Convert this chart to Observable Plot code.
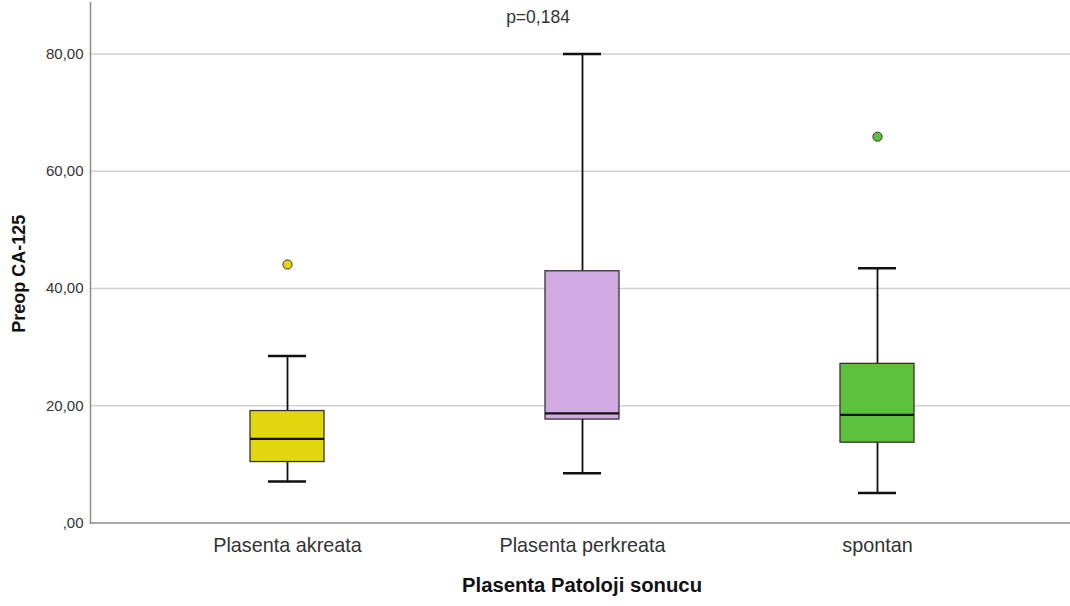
<!DOCTYPE html>
<html>
<head>
<meta charset="utf-8">
<script src="https://cdn.jsdelivr.net/npm/d3@7"></script>
<script src="https://cdn.jsdelivr.net/npm/@observablehq/plot@0.6"></script>
<style>
  html, body { margin: 0; padding: 0; background: #fff; }
  #chart svg { display: block; }
</style>
</head>
<body>
<div id="chart"></div>
<script>
// ---- data ----
const categories = ["Plasenta akreata", "Plasenta perkreata", "spontan"];
const whiskerLow  = [7.1, 8.5, 5.1];
const q1          = [10.4, 17.65, 13.7];
const median      = [14.35, 18.7, 18.45];
const q3          = [19.1, 42.95, 27.15];
const whiskerHigh = [28.5, 80.0, 43.45];
const outlierCats = ["Plasenta akreata", "spontan"];
const outlierVals = [44.1, 65.9];
const boxColors   = ["#e2d70f", "#d1aae4", "#5cc13b"];
const yTicks      = [0, 20, 40, 60, 80];
const pLabel      = "p=0,184";
const xTitle      = "Plasenta Patoloji sonucu";
const yTitle      = "Preop CA-125";

const boxes = categories.map((c, i) => ({
  cat: c, lo: whiskerLow[i], q1: q1[i], med: median[i], q3: q3[i], hi: whiskerHigh[i], color: boxColors[i]
}));
const outliers = outlierCats.map((c, i) => ({
  cat: c, v: outlierVals[i], color: boxColors[categories.indexOf(c)]
}));

const fmt = v => v === 0 ? ",00" : v.toFixed(2).replace(".", ",");

const chart = Plot.plot({
  width: 1070,
  height: 606,
  marginTop: 2,
  marginBottom: 83.5,
  marginLeft: 90,
  marginRight: -3,
  style: { fontFamily: "'Liberation Sans', Arial, sans-serif", background: "#fff" },
  x: { domain: categories, paddingInner: 0.75, paddingOuter: 0.54, label: null },
  y: { domain: [0, 88.8], label: null },
  marks: [
    Plot.ruleY(yTicks.filter(d => d > 0), { stroke: "#d2d2d2", strokeWidth: 1.5 }),
    Plot.frame({ anchor: "left", stroke: "#8c8c8c", strokeWidth: 1.5 }),
    Plot.frame({ anchor: "bottom", stroke: "#8c8c8c", strokeWidth: 1.5 }),
    Plot.axisY({
      ticks: yTicks, tickFormat: fmt, tickSize: 0, tickPadding: 7,
      fontSize: 15, color: "#333", label: null
    }),
    Plot.axisX({
      tickSize: 0, tickPadding: 15, fontSize: 19.8, color: "#333", label: null
    }),
    Plot.ruleX(boxes, { x: "cat", y1: "lo", y2: "hi", stroke: "#111", strokeWidth: 1.8 }),
    Plot.tickY(boxes, { x: "cat", y: "lo", stroke: "#111", strokeWidth: 2.5, insetLeft: 18, insetRight: 18 }),
    Plot.tickY(boxes, { x: "cat", y: "hi", stroke: "#111", strokeWidth: 2.5, insetLeft: 18, insetRight: 18 }),
    Plot.barY(boxes, { x: "cat", y1: "q1", y2: "q3", fill: "color", stroke: "#333", strokeWidth: 1.3 }),
    Plot.tickY(boxes, { x: "cat", y: "med", stroke: "#111", strokeWidth: 2.2 }),
    Plot.dot(outliers, { x: "cat", y: "v", fill: "color", stroke: "#333", strokeWidth: 1, r: 4.6 }),
    Plot.text([pLabel], { frameAnchor: "top", lineAnchor: "top", dx: -44, dy: 8, fontSize: 17.5, fill: "#333", text: d => d }),
    Plot.text([xTitle], { frameAnchor: "bottom", lineAnchor: "bottom", dy: 69, fontSize: 20.3, fontWeight: "bold", fill: "#111", text: d => d }),
    Plot.text([yTitle], { frameAnchor: "left", textAnchor: "middle", dx: -71, dy: 11, rotate: -90, fontSize: 18, fontWeight: "bold", fill: "#111", text: d => d })
  ]
});
document.getElementById("chart").appendChild(chart);
</script>
</body>
</html>
